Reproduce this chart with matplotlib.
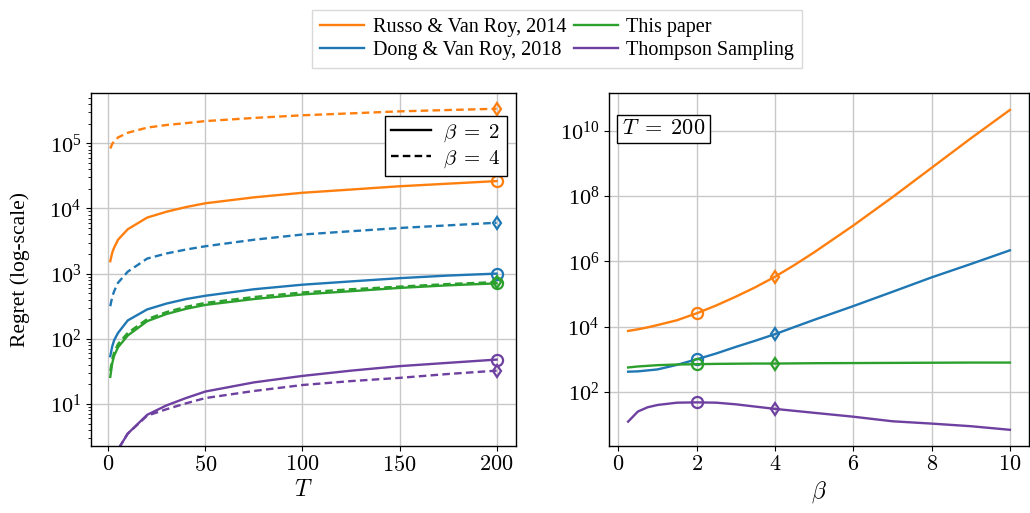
import numpy as np
import matplotlib
matplotlib.use('Agg')
import matplotlib.pyplot as plt
from matplotlib.lines import Line2D
from matplotlib.ticker import FuncFormatter, LogLocator, NullLocator

plt.rcParams['font.family'] = 'serif'
plt.rcParams['font.serif'] = ['Liberation Serif', 'DejaVu Serif']
plt.rcParams['mathtext.fontset'] = 'cm'

# left panel: regret vs horizon T
T = [1, 2, 3, 5, 10, 20, 30, 40, 50, 75, 100, 125, 150, 175, 200]
russo_b2 = [1550, 2090, 2510, 3310, 4790, 7240, 8910, 10500, 12000, 14800, 17400, 19500, 21900, 24000, 26300]
russo_b4 = [83200, 97700, 107000, 123000, 145000, 174000, 191000, 204000, 219000, 245000, 269000, 288000, 309000, 324000, 339000]
dong_b2 = [54, 76, 95, 123, 191, 282, 347, 407, 457, 575, 676, 759, 851, 933, 1000]
dong_b4 = [316, 437, 537, 724, 1070, 1700, 2040, 2340, 2630, 3310, 3980, 4470, 5010, 5500, 6030]
ours_b2 = [26, 42, 55, 74, 112, 186, 240, 288, 331, 407, 479, 537, 603, 661, 708]
ours_b4 = [32, 48, 62, 83, 123, 200, 257, 309, 355, 437, 513, 575, 631, 692, 741]
ts_b2 = [0.63, 1.0, 1.26, 2.0, 3.5, 6.8, 9.5, 12.3, 15.5, 21.4, 26.9, 32.4, 38.0, 42.7, 47.9]
ts_b4 = [0.63, 1.0, 1.26, 2.0, 3.5, 6.6, 8.3, 10.2, 12.3, 15.8, 19.5, 22.4, 25.1, 28.8, 32.4]

# right panel: regret vs beta at T = 200
beta = [0.25, 0.5, 0.75, 1, 1.5, 2, 2.5, 3, 3.5, 4, 4.5, 5, 6, 7, 8, 9, 10]
russo_beta = [7410, 8320, 9550, 11200, 15800, 25700, 44700, 83200, 162000, 339000,
              7.8e5, 1.9e6, 1.26e7, 9.3e7, 7.4e8, 5.9e9, 4.4e10]
dong_beta = [417, 427, 457, 490, 676, 1000, 1510, 2400, 3720, 5890,
             9800, 16200, 42700, 117000, 324000, 832000, 2.19e6]
ours_beta = [562, 603, 631, 661, 692, 708, 724, 733, 741, 741, 750, 759, 767, 776, 785, 794, 794]
ts_beta = [12.3, 25.1, 33.9, 39.8, 46.8, 47.9, 46.8, 41.7, 35.5, 30.2, 26.3, 22.9, 17.4, 12.6, 10.7, 8.9, 6.9]

names = ['Russo & Van Roy, 2014', 'Dong & Van Roy, 2018', 'This paper', 'Thompson Sampling']
colors = ['#ff7f0e', '#1f77b4', '#2ca02c', '#6e40a0']

left_b2 = [russo_b2, dong_b2, ours_b2, ts_b2]
left_b4 = [russo_b4, dong_b4, ours_b4, ts_b4]
right_vals = [russo_beta, dong_beta, ours_beta, ts_beta]

fig = plt.figure(figsize=(10.3, 5.13), dpi=100)
ax1 = fig.add_axes([0.0883, 0.1306, 0.4126, 0.688])
ax2 = fig.add_axes([0.5913, 0.1306, 0.4077, 0.688])

lw = 1.7
dash = (0, (3.2, 1.8))
for c, y2, y4 in zip(colors, left_b2, left_b4):
    ax1.plot(T, y2, color=c, lw=lw)
    ax1.plot(T, y4, color=c, lw=lw, ls=dash)
    ax1.plot(T[-1], y2[-1], marker='o', ms=8, mfc='none', mec=c, mew=1.6)
    ax1.plot(T[-1], y4[-1], marker='d', ms=6, mfc='none', mec=c, mew=1.6)

ax1.set_yscale('log')
ax1.set_ylim(2.26, 5.9e5)
ax1.set_xticks([0, 50, 100, 150, 200])
ax1.xaxis.set_major_formatter(FuncFormatter(lambda v, p: r'$%d$' % v))
ax1.yaxis.set_major_locator(LogLocator(base=10, numticks=10))
ax1.set_xlabel(r'$T$', fontsize=17, labelpad=3)
ax1.set_ylabel('Regret (log-scale)', fontsize=15.5, labelpad=14)

style_handles = [Line2D([], [], color='k', lw=lw),
                 Line2D([], [], color='k', lw=lw, ls=dash)]
leg1 = ax1.legend(style_handles, [r'$\beta\;=\;2$', r'$\beta\;=\;4$'], loc='upper right',
                  bbox_to_anchor=(0.979, 0.935), borderaxespad=0,
                  fontsize=15, fancybox=False, edgecolor='k', framealpha=1,
                  handlelength=1.9, borderpad=0.3, labelspacing=0.2,
                  handletextpad=0.6)
leg1.get_frame().set_linewidth(1.0)

i2 = beta.index(2)
i4 = beta.index(4)
for c, yv in zip(colors, right_vals):
    ax2.plot(beta, yv, color=c, lw=lw)
    ax2.plot(beta[i2], yv[i2], marker='o', ms=8, mfc='none', mec=c, mew=1.6)
    ax2.plot(beta[i4], yv[i4], marker='d', ms=6, mfc='none', mec=c, mew=1.6)

ax2.set_yscale('log')
ax2.set_ylim(2.2, 1.45e11)
ax2.set_yticks([1e2, 1e4, 1e6, 1e8, 1e10])
ax2.yaxis.set_minor_locator(NullLocator())
ax2.set_xticks([0, 2, 4, 6, 8, 10])
ax2.xaxis.set_major_formatter(FuncFormatter(lambda v, p: r'$%d$' % v))
ax2.set_xlabel(r'$\beta$', fontsize=17, labelpad=3)
ax2.text(0.03, 0.925, r'$T\;=\;200$', transform=ax2.transAxes, fontsize=16,
         va='top', ha='left',
         bbox=dict(boxstyle='square,pad=0.22', fc='white', ec='k', lw=1.0))

for ax in (ax1, ax2):
    ax.grid(True, which='major', color='#c8c8c8', lw=1.0)
    ax.set_axisbelow(True)
    ax.tick_params(labelsize=16)
    for s in ax.spines.values():
        s.set_linewidth(1.0)

color_handles = [Line2D([], [], color=c, lw=lw) for c in colors]
fig.legend(color_handles, names, loc='upper center',
           bbox_to_anchor=(0.541, 1.0), ncol=2, fontsize=14.5, fancybox=False,
           edgecolor='#d0d0d0', handlelength=2.2, handletextpad=0.4,
           columnspacing=0.4, labelspacing=0.2, borderpad=0.4)

fig.savefig('out.png', dpi=100)
